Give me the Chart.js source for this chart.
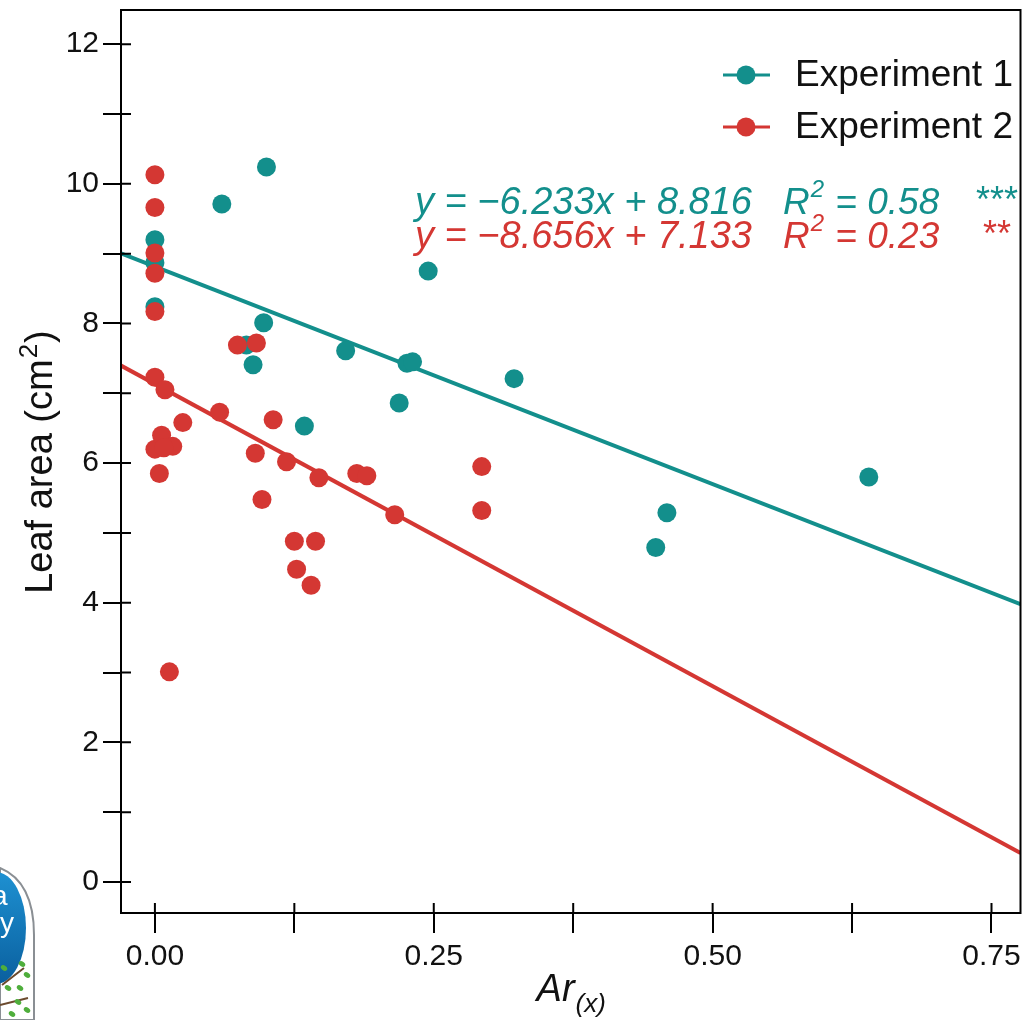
<!DOCTYPE html>
<html lang="en">
<head>
<meta charset="UTF-8">
<title>Leaf area vs Ar(x)</title>
<script src="https://cdn.jsdelivr.net/npm/chart.js"></script>
<style>
    body { margin: 0; padding: 0; background: #fff; overflow: hidden; }
    canvas { display: block; }
</style>
</head>
<body>
<canvas id="leafChart" width="1030" height="1020"></canvas>
<script>
// measured points, Experiment 1
const exp1X = [0, 0, 0, 0.060, 0.100, 0.0975, 0.245, 0.088, 0.082, 0.171, 0.226, 0.231, 0.219, 0.134, 0.322, 0.459, 0.449, 0.640];
const exp1Y = [9.20, 8.87, 8.24, 9.71, 10.24, 8.01, 8.75, 7.41, 7.69, 7.61, 7.43, 7.45, 6.86, 6.53, 7.21, 5.29, 4.79, 5.80];
// measured points, Experiment 2
const exp2X = [0, 0, 0, 0, 0, 0.074, 0.091, 0, 0.009, 0.058, 0.025, 0.106, 0, 0.006, 0.016, 0.008, 0.004, 0.090,
               0.118, 0.147, 0.181, 0.190, 0.096, 0.215, 0.125, 0.144, 0.127, 0.140, 0.013, 0.293, 0.293];
const exp2Y = [10.13, 9.66, 9.01, 8.72, 8.17, 7.69, 7.72, 7.23, 7.05, 6.73, 6.58, 6.62, 6.20, 6.40, 6.24, 6.22, 5.85, 6.14,
               6.02, 5.79, 5.85, 5.82, 5.48, 5.26, 4.88, 4.88, 4.48, 4.25, 3.01, 5.95, 5.32];

// linear fits
const seriesNames = ['Experiment 1', 'Experiment 2'];
const fitSlope = [-6.233, -8.656];
const fitIntercept = [8.816, 7.133];
const fitR2 = ['0.58', '0.23'];
const fitStars = ['***', '**'];

const xTicks = [0, 0.125, 0.25, 0.375, 0.5, 0.625, 0.75];
const xTickLabels = ['0.00', '', '0.25', '', '0.50', '', '0.75'];
const yTicks = [0, 1, 2, 3, 4, 5, 6, 7, 8, 9, 10, 11, 12];
const yTickLabels = ['0', '', '2', '', '4', '', '6', '', '8', '', '10', '', '12'];

const TEAL = '#138f8c';
const RED = '#d43733';
const colors = [TEAL, RED];
const FONT = "'Liberation Sans', Arial, sans-serif";
const X_MIN = -0.0304, X_MAX = 0.776, Y_MIN = -0.444, Y_MAX = 12.49;

const toPoints = (xs, ys) => xs.map((x, i) => ({ x: x, y: ys[i] }));
const fitLine = k => [X_MIN, X_MAX].map(x => ({ x: x, y: fitIntercept[k] + fitSlope[k] * x }));

// frame, ticks that reach into the plot, legend, equations, axis titles
const decorations = {
    id: 'decorations',
    afterDraw(chart) {
        const ctx = chart.ctx;
        const a = chart.chartArea;
        const xs = chart.scales.x, ys = chart.scales.y;
        ctx.save();
        ctx.strokeStyle = '#000';
        ctx.lineWidth = 2;
        ctx.strokeRect(a.left, a.top, a.right - a.left, a.bottom - a.top);
        ctx.beginPath();
        xTicks.forEach(v => {
            const px = xs.getPixelForValue(v);
            ctx.moveTo(px, a.bottom); ctx.lineTo(px, a.bottom - 10);
        });
        yTicks.forEach(v => {
            const py = ys.getPixelForValue(v);
            ctx.moveTo(a.left, py); ctx.lineTo(a.left + 10, py);
        });
        ctx.stroke();

        // legend
        seriesNames.forEach((name, i) => {
            const cy = 75 + i * 52;
            ctx.strokeStyle = colors[i];
            ctx.lineWidth = 3;
            ctx.beginPath(); ctx.moveTo(723, cy); ctx.lineTo(770, cy); ctx.stroke();
            ctx.fillStyle = colors[i];
            ctx.beginPath(); ctx.arc(746, cy, 9.5, 0, Math.PI * 2); ctx.fill();
            ctx.fillStyle = '#111';
            ctx.font = '37px ' + FONT;
            ctx.textAlign = 'left';
            ctx.textBaseline = 'middle';
            ctx.fillText(name, 795, cy + 1);
        });

        // regression equations
        ctx.textBaseline = 'alphabetic';
        fitSlope.forEach((m, i) => {
            const base = 214 + i * 34;
            const b = fitIntercept[i];
            const eq = 'y = ' + (m < 0 ? '\u2212' : '') + Math.abs(m).toFixed(3) + 'x + ' + b.toFixed(3);
            ctx.fillStyle = colors[i];
            ctx.font = 'italic 38px ' + FONT;
            ctx.textAlign = 'left';
            ctx.fillText(eq, 415, base);
            const rx = 783;
            ctx.font = 'italic 37px ' + FONT;
            ctx.fillText('R', rx, base);
            const rw = ctx.measureText('R').width;
            ctx.font = 'italic 24px ' + FONT;
            ctx.fillText('2', rx + rw + 1, base - 17);
            const sw = ctx.measureText('2').width;
            ctx.font = 'italic 37px ' + FONT;
            ctx.fillText(' = ' + fitR2[i], rx + rw + sw + 2, base);
            ctx.font = '36px ' + FONT;
            ctx.textAlign = 'center';
            ctx.fillText(fitStars[i], 997, base - 2);
        });

        // y axis title with superscript
        ctx.fillStyle = '#111';
        ctx.save();
        ctx.translate(52, 462);
        ctx.rotate(-Math.PI / 2);
        const big = '38px ' + FONT, small = '26px ' + FONT;
        ctx.font = big;
        const t1 = 'Leaf area (cm', t3 = ')';
        const w1 = ctx.measureText(t1).width, w3 = ctx.measureText(t3).width;
        ctx.font = small;
        const w2 = ctx.measureText('2').width;
        let sx = -(w1 + w2 + w3 + 2) / 2;
        ctx.textAlign = 'left';
        ctx.font = big; ctx.fillText(t1, sx, 0);
        ctx.font = small; ctx.fillText('2', sx + w1 + 1, -15);
        ctx.font = big; ctx.fillText(t3, sx + w1 + w2 + 2, 0);
        ctx.restore();

        // x axis title with subscript
        ctx.font = 'italic 38px ' + FONT;
        const aw = ctx.measureText('Ar').width;
        ctx.font = 'italic 26px ' + FONT;
        const sw2 = ctx.measureText('(x)').width;
        const cx = (a.left + a.right) / 2 - (aw + sw2) / 2;
        ctx.textAlign = 'left';
        ctx.font = 'italic 38px ' + FONT; ctx.fillText('Ar', cx, 1001);
        ctx.font = 'italic 26px ' + FONT; ctx.fillText('(x)', cx + aw + 1, 1012);

        // corner badge
        ctx.save();
        ctx.beginPath();
        ctx.moveTo(0, 868);
        ctx.quadraticCurveTo(34, 882, 34, 935);
        ctx.lineTo(34, 1020);
        ctx.lineTo(0, 1020);
        ctx.closePath();
        ctx.fillStyle = '#fff';
        ctx.fill();
        ctx.strokeStyle = '#8a8f94';
        ctx.lineWidth = 2;
        ctx.stroke();
        ctx.clip();
        const g = ctx.createLinearGradient(0, 875, 0, 985);
        g.addColorStop(0, '#1d8fd0');
        g.addColorStop(1, '#0a5f9e');
        ctx.fillStyle = g;
        ctx.beginPath();
        ctx.ellipse(-4, 928, 30, 56, 0, 0, Math.PI * 2);
        ctx.fill();
        ctx.fillStyle = '#fff';
        ctx.font = '28px ' + FONT;
        ctx.fillText('y', 0, 932);
        ctx.fillText('a', -8, 905);
        ctx.strokeStyle = '#6b4a2e';
        ctx.lineWidth = 2;
        ctx.beginPath();
        ctx.moveTo(0, 1005); ctx.lineTo(28, 998);
        ctx.moveTo(2, 985); ctx.lineTo(24, 968);
        ctx.stroke();
        ctx.fillStyle = '#4fae3c';
        [[22, 964], [27, 975], [8, 988], [18, 1002], [27, 1010], [12, 1014], [4, 968], [20, 988]].forEach(p => {
            ctx.beginPath(); ctx.ellipse(p[0], p[1], 3.5, 2.5, 0.6, 0, Math.PI * 2); ctx.fill();
        });
        ctx.restore();
        ctx.restore();
    }
};

const axisTickFont = { family: FONT, size: 30 };
const noOverhang = s => { s.paddingTop = 0; s.paddingBottom = 0; s.paddingLeft = 0; s.paddingRight = 0; };

new Chart(document.getElementById('leafChart'), {
    type: 'scatter',
    data: {
        datasets: [
            { label: seriesNames[1], data: toPoints(exp2X, exp2Y), backgroundColor: RED, borderWidth: 0, pointRadius: 9.5, order: 0 },
            { label: seriesNames[0], data: toPoints(exp1X, exp1Y), backgroundColor: TEAL, borderWidth: 0, pointRadius: 9.5, order: 1 },
            { type: 'line', data: fitLine(0), borderColor: TEAL, borderWidth: 4, pointRadius: 0, fill: false, order: 2 },
            { type: 'line', data: fitLine(1), borderColor: RED, borderWidth: 4, pointRadius: 0, fill: false, order: 3 }
        ]
    },
    options: {
        responsive: false,
        animation: false,
        layout: { padding: { top: 10, right: 4, left: 0, bottom: 0 } },
        plugins: { legend: { display: false }, tooltip: { enabled: false } },
        scales: {
            x: {
                type: 'linear',
                min: X_MIN, max: X_MAX,
                afterBuildTicks: s => { s.ticks = xTicks.map(v => ({ value: v })); },
                afterFit: s => { s.height = 107; noOverhang(s); },
                border: { display: false },
                grid: { drawOnChartArea: false, drawTicks: true, tickLength: 20, color: '#000', lineWidth: 2 },
                ticks: {
                    autoSkip: false, maxRotation: 0, padding: 6, color: '#111', font: axisTickFont,
                    callback: (v, i) => xTickLabels[i]
                }
            },
            y: {
                type: 'linear',
                min: Y_MIN, max: Y_MAX,
                afterBuildTicks: s => { s.ticks = yTicks.map(v => ({ value: v })); },
                afterFit: s => { s.width = 121; noOverhang(s); },
                border: { display: false },
                grid: { drawOnChartArea: false, drawTicks: true, tickLength: 18, color: '#000', lineWidth: 2 },
                ticks: {
                    autoSkip: false, padding: 4, color: '#111', font: axisTickFont,
                    callback: (v, i) => yTickLabels[i]
                }
            }
        }
    },
    plugins: [decorations]
});
</script>
</body>
</html>
